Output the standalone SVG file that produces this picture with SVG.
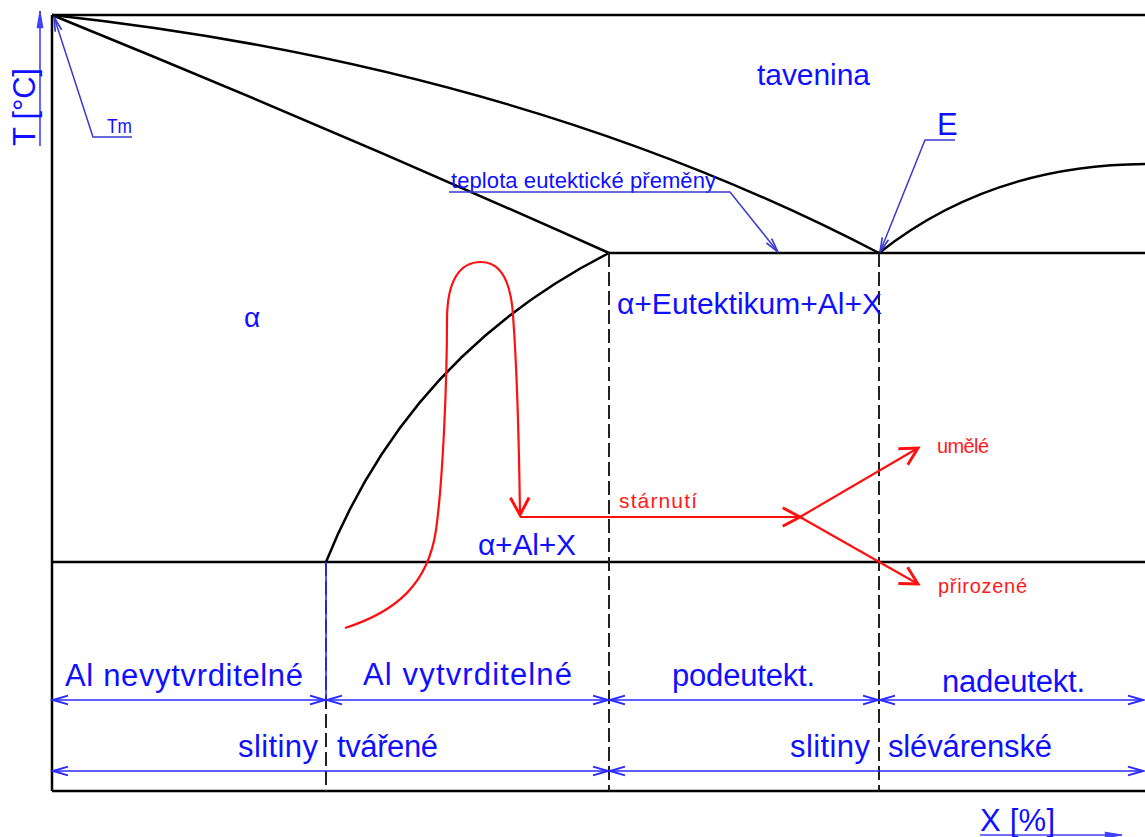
<svg xmlns="http://www.w3.org/2000/svg" width="1145" height="837" viewBox="0 0 1145 837">
<style>
.ln{fill:none;stroke:#000;stroke-width:2.5}
.dash{fill:none;stroke:#222;stroke-width:2;stroke-dasharray:14 5}
.dim{fill:none;stroke:#2a2aff;stroke-width:1.6}
.ldr{fill:none;stroke:#3a3ad0;stroke-width:1.5}
.red{fill:none;stroke:#ff1010;stroke-width:2.2}
.t{font-family:"Liberation Sans",Arial,sans-serif;fill:#1010ff}
.r{font-family:"Liberation Sans",Arial,sans-serif;fill:#ff1a1a}
</style>
<defs>
<marker id="da" markerUnits="userSpaceOnUse" markerWidth="20" markerHeight="20" viewBox="-14 -7 16 14" refX="0" refY="0" orient="auto-start-reverse" overflow="visible">
<path d="M-12,-3.5 L0,0 L-12,3.5" fill="none" stroke="#2a2aff" stroke-width="1.6"/>
</marker>
<marker id="la" markerUnits="userSpaceOnUse" markerWidth="20" markerHeight="20" viewBox="-16 -7 18 14" refX="0" refY="0" orient="auto" overflow="visible">
<path d="M-13,-3 L0,0 L-13,3" fill="none" stroke="#3a3ad0" stroke-width="1.5"/>
</marker>
<marker id="ax" markerUnits="userSpaceOnUse" markerWidth="20" markerHeight="20" viewBox="-16 -7 18 14" refX="0" refY="0" orient="auto" overflow="visible">
<path d="M-15,-2.5 L0,0 L-15,2.5 Z" fill="#4040ff" stroke="#4040ff" stroke-width="1"/>
</marker>
<marker id="ra" markerUnits="userSpaceOnUse" markerWidth="24" markerHeight="24" viewBox="-16 -9 18 18" refX="0" refY="0" orient="auto" overflow="visible">
<path d="M-13,-7 L0,0 L-13,7" fill="none" stroke="#ff1010" stroke-width="2.2"/>
</marker>
</defs>

<g id="frame">
<line class="ln" x1="52" y1="15" x2="1145" y2="15"/>
<line class="ln" x1="52" y1="15" x2="52" y2="791"/>
<line class="ln" x1="52" y1="791" x2="1145" y2="791"/>
<line class="ln" x1="609" y1="253" x2="1145" y2="253"/>
<line class="ln" x1="52" y1="562" x2="1145" y2="562"/>
</g>

<g id="curves">
<path class="ln" d="M52,15 Q520,66 879,253"/>
<path class="ln" d="M52,15 Q330,128 609,253"/>
<path class="ln" d="M326,562 Q409,355 609,253"/>
<path class="ln" d="M879,253 Q990,165 1145,164"/>
</g>

<g id="dividers">
<line class="dash" x1="609" y1="253" x2="609" y2="791"/>
<line class="dash" x1="879" y1="253" x2="879" y2="791"/>
<line class="dash" x1="326" y1="562" x2="326" y2="791"/>
<line x1="326" y1="562" x2="326" y2="700" stroke="#2a2aff" stroke-width="1.6"/>
</g>

<g id="axes">
<line x1="40" y1="146" x2="40" y2="11" stroke="#4040ff" stroke-width="1.6" marker-end="url(#ax)"/>
<text class="t" font-size="31" transform="translate(35,146) rotate(-90)" textLength="78">T [°C]</text>
<line x1="980" y1="835" x2="1122" y2="835" stroke="#4040ff" stroke-width="1.6" marker-end="url(#ax)"/>
<text class="t" font-size="31" x="980" y="831" textLength="75">X [%]</text>
</g>

<g id="node-tavenina"><text class="t" font-size="30" x="757" y="85" textLength="113">tavenina</text></g>
<g id="node-alpha"><text class="t" font-size="28" x="244" y="327">α</text></g>
<g id="node-eutektikum"><text class="t" font-size="30" x="617" y="314" textLength="265">α+Eutektikum+Al+X</text></g>
<g id="node-alalx"><text class="t" font-size="30" x="478" y="555" textLength="98">α+Al+X</text></g>

<g id="node-tm">
<text class="t" font-size="21" x="107" y="133" textLength="25" lengthAdjust="spacingAndGlyphs">Tm</text>
</g>
<g id="node-e">
<text class="t" font-size="31" x="937" y="135">E</text>
</g>
<g id="node-teplota">
<text class="t" font-size="22" x="451" y="188" textLength="265">teplota eutektické přeměny</text>
</g>

<g id="node-starnuti"><text class="r" font-size="21" x="619" y="508" textLength="78">stárnutí</text></g>
<g id="node-umele"><text class="r" font-size="20" x="937" y="453" textLength="52">umělé</text></g>
<g id="node-prirozene"><text class="r" font-size="20" x="938" y="593" textLength="89">přirozené</text></g>

<g id="node-nevytvrditelne"><text class="t" font-size="31" x="65" y="686" textLength="238">Al nevytvrditelné</text></g>
<g id="node-vytvrditelne"><text class="t" font-size="31" x="363" y="685" textLength="209">Al vytvrditelné</text></g>
<g id="node-podeutekt"><text class="t" font-size="31" x="672" y="686" textLength="143">podeutekt.</text></g>
<g id="node-nadeutekt"><text class="t" font-size="31" x="942" y="692" textLength="143">nadeutekt.</text></g>
<g id="node-slitiny1"><text class="t" font-size="31" x="238" y="757" textLength="80">slitiny</text></g>
<g id="node-tvarene"><text class="t" font-size="31" x="337" y="757" textLength="101">tvářené</text></g>
<g id="node-slitiny2"><text class="t" font-size="31" x="790" y="757" textLength="80">slitiny</text></g>
<g id="node-slevarenske"><text class="t" font-size="31" x="888" y="757" textLength="164">slévárenské</text></g>

<g id="connectors">
<polyline class="ldr" points="132,137 93,137 54,17" marker-end="url(#la)"/>
<polyline class="ldr" points="955,140 925,140 880,252" marker-end="url(#la)"/>
<polyline class="ldr" points="449,192 730,192 778,252" marker-end="url(#la)"/>

<line class="dim" x1="53" y1="700" x2="325" y2="700" marker-start="url(#da)" marker-end="url(#da)"/>
<line class="dim" x1="327" y1="700" x2="608" y2="700" marker-start="url(#da)" marker-end="url(#da)"/>
<line class="dim" x1="610" y1="700" x2="878" y2="700" marker-start="url(#da)" marker-end="url(#da)"/>
<line class="dim" x1="880" y1="700" x2="1143" y2="700" marker-start="url(#da)" marker-end="url(#da)"/>
<line class="dim" x1="53" y1="771" x2="608" y2="771" marker-start="url(#da)" marker-end="url(#da)"/>
<line class="dim" x1="610" y1="771" x2="1143" y2="771" marker-start="url(#da)" marker-end="url(#da)"/>

<path class="red" d="M345,628 C395,612 428,585 436,530 C443,480 447,380 447,320 C447,280 460,262 481,262 C502,262 511,285 513,315 C517,370 519,440 520,515" marker-end="url(#ra)"/>
<line class="red" x1="520" y1="517" x2="800" y2="517" marker-end="url(#ra)"/>
<line class="red" x1="800" y1="517" x2="918" y2="448" marker-end="url(#ra)"/>
<line class="red" x1="800" y1="517" x2="918" y2="584" marker-end="url(#ra)"/>
</g>
</svg>
